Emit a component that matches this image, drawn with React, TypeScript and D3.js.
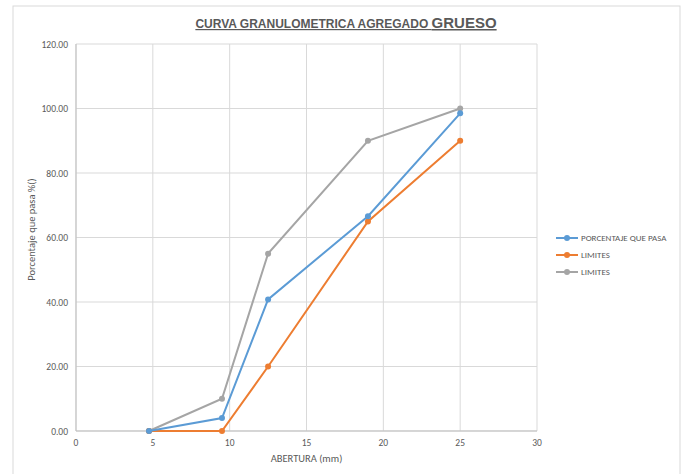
import * as d3 from "d3";

const abertura = [4.75, 9.5, 12.5, 19, 25];
const porcentaje = [0, 4, 40.8, 66.6, 98.5];
const limiteInf = [0, 0, 20, 65, 90];
const limiteSup = [0, 10, 55, 90, 100];
const xTicks = [0, 5, 10, 15, 20, 25, 30];
const yTicks = [0, 20, 40, 60, 80, 100, 120];

const seriesList = [
  { name: "PORCENTAJE QUE PASA", values: porcentaje, color: "#5b9bd5" },
  { name: "LIMITES", values: limiteInf, color: "#ed7d31" },
  { name: "LIMITES", values: limiteSup, color: "#a5a5a5" },
];

export default function App() {
  const width = 685;
  const height = 474;
  const margin = { top: 44, right: 148, bottom: 43, left: 76 };
  const plotR = width - margin.right;
  const plotB = height - margin.bottom;
  const x = d3.scaleLinear([0, 30], [margin.left, plotR]);
  const y = d3.scaleLinear([0, 120], [plotB, margin.top]);
  const line = d3
    .line<number>()
    .x((_, i) => x(abertura[i]))
    .y((d) => y(d));
  const font = "Calibri, Carlito, 'Liberation Sans', Arial, sans-serif";
  // draw grey first so blue/orange sit on top like in the sheet
  const drawOrder = [2, 1, 0];

  return (
    <svg
      width={width}
      height={height}
      style={{ position: "absolute", left: 0, top: 0, background: "#fff" }}
      fontFamily={font}
    >
      <rect x={13} y={6} width={667} height={480} fill="#fff" stroke="#d9d9d9" strokeWidth={1} />
      <text
        x={346}
        y={28}
        textAnchor="middle"
        fill="#595959"
        fontWeight="bold"
        fontFamily="'Liberation Sans', Arial, sans-serif"
        textDecoration="underline"
        fontSize={12}
      >
        CURVA GRANULOMETRICA AGREGADO <tspan fontSize={15}>GRUESO</tspan>
      </text>
      {xTicks.map((t) => (
        <g key={`x${t}`}>
          <line x1={x(t)} x2={x(t)} y1={margin.top} y2={plotB} stroke="#d9d9d9" />
          <text x={x(t)} y={plotB + 15} textAnchor="middle" fontSize={9.5} fill="#595959">
            {t}
          </text>
        </g>
      ))}
      {yTicks.map((t) => (
        <g key={`y${t}`}>
          <line x1={margin.left} x2={plotR} y1={y(t)} y2={y(t)} stroke="#d9d9d9" />
          <text x={margin.left - 8} y={y(t) + 3.5} textAnchor="end" fontSize={9.5} fill="#595959">
            {t.toFixed(2)}
          </text>
        </g>
      ))}
      <line x1={margin.left} x2={margin.left} y1={margin.top} y2={plotB} stroke="#bfbfbf" />
      <line x1={margin.left} x2={plotR} y1={plotB} y2={plotB} stroke="#bfbfbf" />
      {drawOrder.map((k) => {
        const s = seriesList[k];
        return (
          <g key={k}>
            <path d={line(s.values) ?? ""} fill="none" stroke={s.color} strokeWidth={2} />
            {s.values.map((v, i) => (
              <circle key={i} cx={x(abertura[i])} cy={y(v)} r={3} fill={s.color} />
            ))}
          </g>
        );
      })}
      <text
        x={(margin.left + plotR) / 2}
        y={plotB + 31}
        textAnchor="middle"
        fontSize={10.5}
        fill="#595959"
      >
        ABERTURA (mm)
      </text>
      <text
        transform={`translate(35 ${(margin.top + plotB) / 2 - 8}) rotate(-90)`}
        textAnchor="middle"
        fontSize={10.5}
        fill="#595959"
      >
        Porcentaje que pasa %()
      </text>
      {seriesList.map((s, i) => {
        const ly = 238 + i * 17;
        return (
          <g key={`leg${i}`}>
            <line x1={556} x2={578} y1={ly} y2={ly} stroke={s.color} strokeWidth={2} />
            <circle cx={567} cy={ly} r={3} fill={s.color} />
            <text x={581} y={ly + 3} fontSize={9} fill="#595959">
              {s.name}
            </text>
          </g>
        );
      })}
    </svg>
  );
}
